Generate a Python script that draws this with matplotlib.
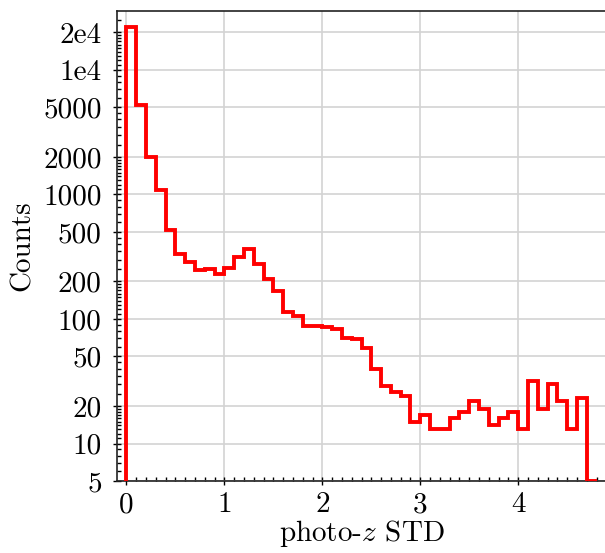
import numpy as np
import matplotlib
matplotlib.use("Agg")
import matplotlib.pyplot as plt
from matplotlib.ticker import FixedLocator, NullFormatter

plt.rcParams["font.family"] = "serif"
plt.rcParams["font.serif"] = ["cmr10"]
plt.rcParams["mathtext.fontset"] = "cm"
plt.rcParams["axes.formatter.use_mathtext"] = True

# histogram of photo-z STD, bins of 0.1 starting at 0
bin_width = 0.1
counts = [22100, 5200, 2000, 1080, 516, 330, 288, 247, 253, 229,
          258, 312, 364, 274, 208, 168, 113, 106, 88, 88,
          86, 83, 71, 69, 58, 40, 29, 26, 24, 15,
          17, 13, 13, 16, 18, 22, 19, 14, 16, 18,
          13, 32, 19, 30, 22, 13, 23, 0]

y_ticks = [5, 10, 20, 50, 100, 200, 500, 1000, 2000, 5000, 10000, 20000]
y_labels = ["5", "10", "20", "50", "100", "200", "500", "1000", "2000", "5000", "1e4", "2e4"]
x_ticks = [0, 1, 2, 3, 4]
y_lim = (5, 30000)


def minor_between(majors, top):
    # nice sub-steps between each pair of major ticks
    out = []
    bounds = list(majors) + [top]
    for lo, hi in zip(bounds[:-1], bounds[1:]):
        mag = 10 ** np.floor(np.log10(lo))
        mant = int(round(lo / mag))
        step = {1: 0.1, 2: 0.5, 5: 1.0}[mant] * mag
        v = lo + step
        while v < hi - 1e-9:
            out.append(v)
            v += step
    return out


edges = np.arange(len(counts) + 1) * bin_width
vals = np.maximum(np.array(counts, dtype=float), y_lim[0])

fig = plt.figure(figsize=(6.05, 5.53), dpi=100)
ax = fig.add_axes([0.1934, 0.1302, 0.8083, 0.8508])

ax.stairs(vals, edges, baseline=y_lim[0], color="#ff0000", lw=2.8, zorder=3)

ax.set_yscale("log")
ax.set_ylim(*y_lim)
ax.set_xlim(-0.096, 4.896)

ax.yaxis.set_major_locator(FixedLocator(y_ticks))
ax.set_yticklabels(y_labels)
ax.yaxis.set_minor_locator(FixedLocator(minor_between(y_ticks, y_lim[1])))
ax.yaxis.set_minor_formatter(NullFormatter())

ax.set_xticks(x_ticks)
ax.set_xticklabels([str(t) for t in x_ticks])
ax.xaxis.set_minor_locator(FixedLocator(np.arange(0, 4.85, 0.1)))

ax.tick_params(which="major", direction="inout", length=6, width=1.0,
               labelsize=21, top=False, right=False)
ax.tick_params(axis="y", which="major", pad=8)
ax.tick_params(axis="x", which="major", pad=5)
ax.tick_params(which="minor", direction="in", length=3, width=1.0,
               top=False, right=False)

ax.grid(True, which="major", color="#d3d3d3", lw=1.2, zorder=0)
ax.set_axisbelow(True)
for s in ax.spines.values():
    s.set_linewidth(1.2)
    s.set_color("#222222")

ax.set_xlabel("photo-$z$ STD", fontsize=21, labelpad=0)
ax.set_ylabel("Counts", fontsize=21, labelpad=5)

fig.savefig("out.png", dpi=100)
